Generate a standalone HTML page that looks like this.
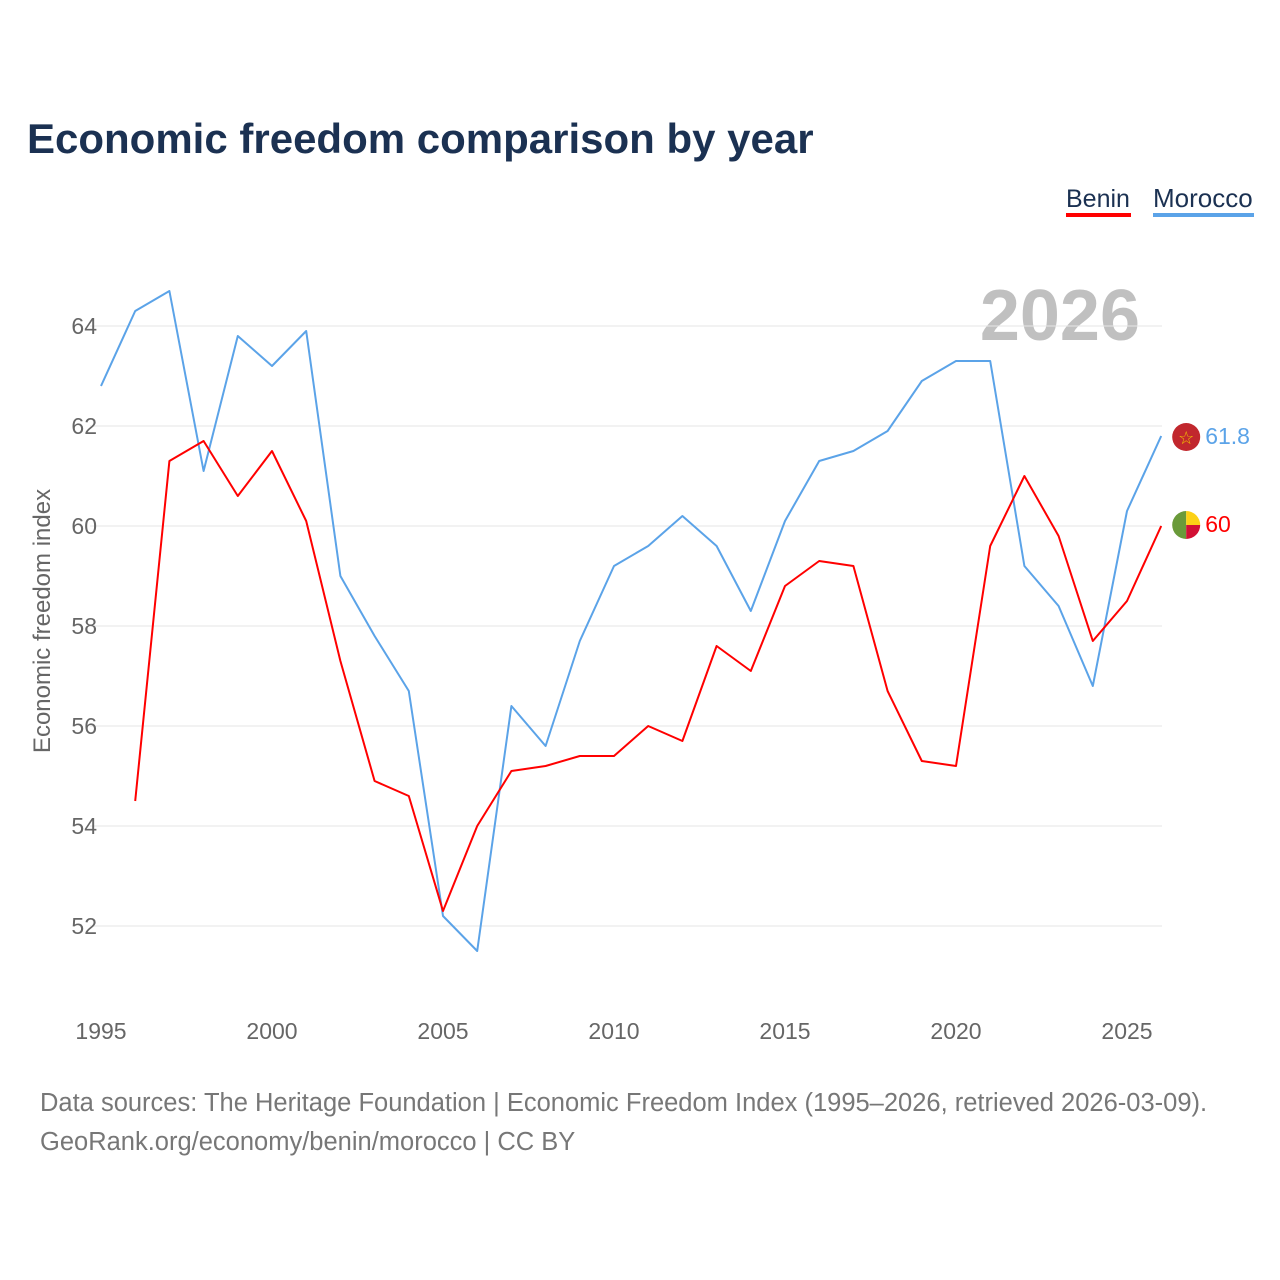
<!DOCTYPE html>
<html><head><meta charset="utf-8"><style>
body{margin:0;background:#fff;font-family:"Liberation Sans",sans-serif}
#wrap{position:relative;width:1280px;height:1280px;overflow:hidden}
</style></head><body>
<div id="wrap">
<svg id="chart" width="1280" height="1280">
<text x="27" y="153" font-size="42" font-weight="bold" fill="#1b3152">Economic freedom comparison by year</text>
<g>
<text x="1066" y="207" font-size="25" fill="#1b3152">Benin</text>
<rect x="1066" y="213" width="65" height="4" fill="#ff0000"></rect>
<text x="1153" y="207" font-size="26" fill="#1b3152">Morocco</text>
<rect x="1153" y="213" width="101" height="4" fill="#5ba3e8"></rect>
</g>
<text x="1140" y="340" font-size="72" font-weight="bold" fill="#c0c0c0" text-anchor="end">2026</text>
<text transform="translate(50,621) rotate(-90)" font-size="24" fill="#666" text-anchor="middle">Economic freedom index</text>
<g id="grid"></g><g id="series"></g><g id="ends"></g>
<text x="40" y="1111" font-size="25.5" fill="#777">Data sources: The Heritage Foundation | Economic Freedom Index (1995–2026, retrieved 2026-03-09).</text>
<text x="40" y="1150" font-size="25.5" fill="#777">GeoRank.org/economy/benin/morocco | CC BY</text>
</svg></div>
<script>
const years=[1995,1996,1997,1998,1999,2000,2001,2002,2003,2004,2005,2006,2007,2008,2009,2010,2011,2012,2013,2014,2015,2016,2017,2018,2019,2020,2021,2022,2023,2024,2025,2026];
const morocco=[62.8,64.3,64.7,61.1,63.8,63.2,63.9,59.0,57.8,56.7,52.2,51.5,56.4,55.6,57.7,59.2,59.6,60.2,59.6,58.3,60.1,61.3,61.5,61.9,62.9,63.3,63.3,59.2,58.4,56.8,60.3,61.8];
const benin=[null,54.5,61.3,61.7,60.6,61.5,60.1,57.3,54.9,54.6,52.3,54.0,55.1,55.2,55.4,55.4,56.0,55.7,57.6,57.1,58.8,59.3,59.2,56.7,55.3,55.2,59.6,61.0,59.8,57.7,58.5,60.0];
const yTicks=[52,54,56,58,60,62,64];
const xTicks=[1995,2000,2005,2010,2015,2020,2025];
const NS='http://www.w3.org/2000/svg';
const xs=y=>101+(y-1995)*34.2;
const ys=v=>326+(64-v)*50;
function mk(t,a,p){const e=document.createElementNS(NS,t);for(const k in a)e.setAttribute(k,a[k]);p.appendChild(e);return e;}
const grid=document.getElementById('grid');
yTicks.forEach(t=>{
const l=mk('line',{x1:90,x2:1162,y1:ys(t),y2:ys(t),stroke:'#e6e6e6','stroke-width':1},grid);


const tx=mk('text',{x:97,y:ys(t)+8,'font-size':23,fill:'#666','text-anchor':'end'},grid);tx.textContent=t;


});
xTicks.forEach(t=>{
const tx=mk('text',{x:xs(t),y:1039,'font-size':23,fill:'#666','text-anchor':'middle'},grid);tx.textContent=t;


});
const ser=document.getElementById('series');
function line(vals,col,name){
let d='';vals.forEach((v,i)=>{if(v==null)return;d+=(d?'L':'M')+xs(years[i]).toFixed(1)+','+ys(v).toFixed(1);});
const p=mk('path',{d:d,fill:'none',stroke:col,'stroke-width':2,'stroke-linejoin':'round'},ser);


}
line(morocco,'#5ba3e8','morocco-line');
line(benin,'#ff0000','benin-line');
const ends=document.getElementById('ends');
const lm=morocco[morocco.length-1],lb=benin[benin.length-1],lx=xs(years[years.length-1]);
const g1=mk('g',{},ends);


mk('circle',{cx:lx+25,cy:ys(lm)+1,r:14,fill:'#c1272d'},g1);
const st=mk('text',{x:lx+25,y:ys(lm)+8,'font-size':18,fill:'#f3c300','text-anchor':'middle'},g1);st.textContent='☆';
const t1=mk('text',{x:lx+44,y:ys(lm)+8,'font-size':23,fill:'#5ba3e8'},g1);t1.textContent=lm;
const g2=mk('g',{},ends);


const cx=lx+25,cy=ys(lb)-1;
mk('path',{d:`M${cx},${cy-14}A14,14 0 0,0 ${cx},${cy+14}Z`,fill:'#6a9a3a'},g2);
mk('path',{d:`M${cx},${cy}L${cx},${cy-14}A14,14 0 0,1 ${cx+14},${cy}Z`,fill:'#fcd116'},g2);
mk('path',{d:`M${cx},${cy}L${cx+14},${cy}A14,14 0 0,1 ${cx},${cy+14}Z`,fill:'#d21034'},g2);
const t2=mk('text',{x:lx+44,y:ys(lb)+6,'font-size':23,fill:'#ff0000'},g2);t2.textContent=lb;
</script>
</body></html>
